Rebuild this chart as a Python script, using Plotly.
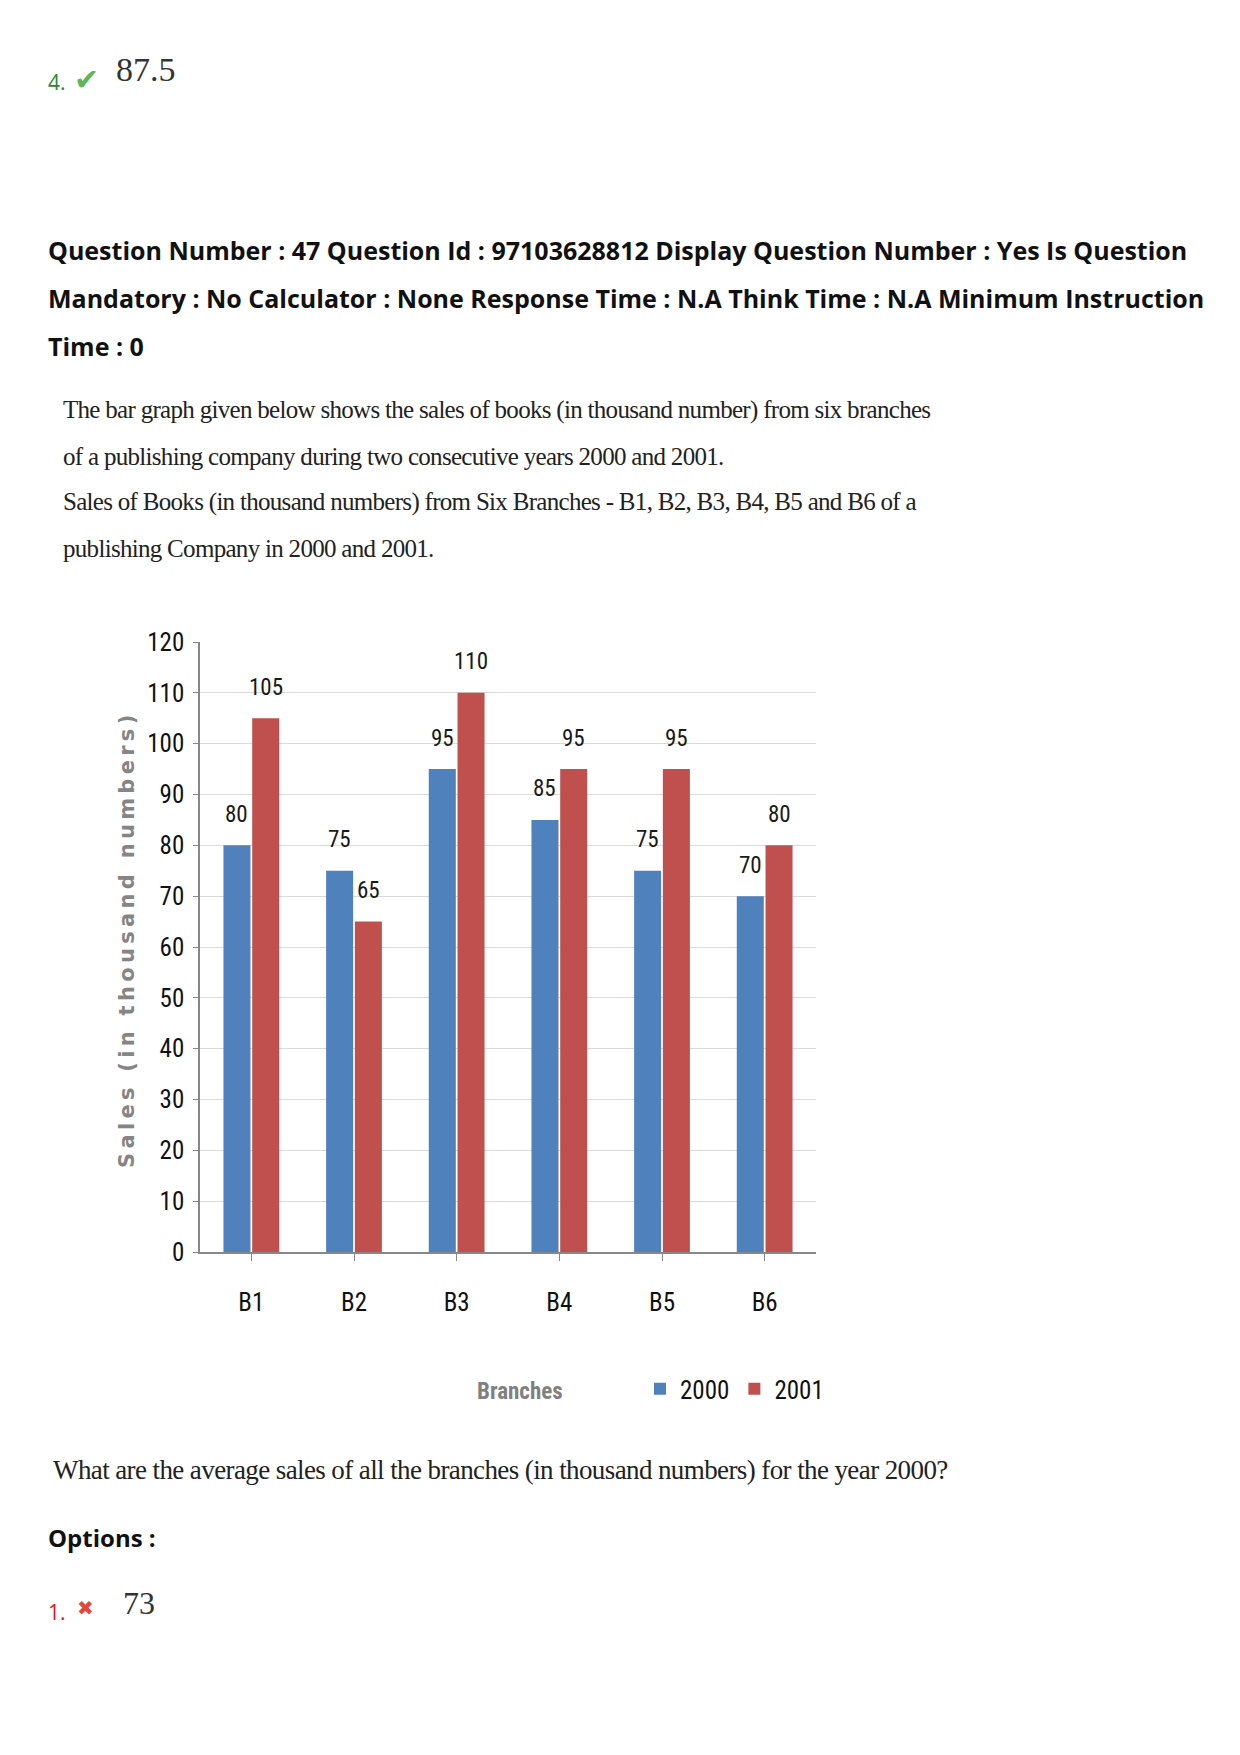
import plotly.graph_objects as go

# ---------------- data ----------------
branches = ["B1", "B2", "B3", "B4", "B5", "B6"]
sales_2000 = [80, 75, 95, 85, 75, 70]
sales_2001 = [105, 65, 110, 95, 95, 80]
series_names = ["2000", "2001"]
y_ticks = list(range(0, 121, 10))

header_lines = [
    "Question Number : 47 Question Id : 97103628812 Display Question Number : Yes Is Question",
    "Mandatory : No Calculator : None Response Time : N.A Think Time : N.A Minimum Instruction",
    "Time : 0",
]
intro_lines = [
    "The bar graph given below shows the sales of books (in thousand number) from six branches",
    "of a publishing company during two consecutive years 2000 and 2001.",
    "Sales of Books (in thousand numbers) from Six Branches - B1, B2, B3, B4, B5 and B6 of a",
    "publishing Company in 2000 and 2001.",
]
question_text = "What are the average sales of all the branches (in thousand numbers) for the year 2000?"
prev_option = ("4.", "87.5")
next_option = ("1.", "73")

# ---------------- layout geometry (pixels) ----------------
W, H = 1240, 1755
PL, PR, PT, PB = 200, 816, 642, 1252


def px(x):
    return (x - PL) / (PR - PL)


def py(y):
    return (PB - y) / (PB - PT)


BLUE = "#4F81BD"
RED = "#C0504D"
NARROW = "Roboto Condensed, DejaVu Sans Condensed, Liberation Sans Narrow, Liberation Sans, sans-serif"
SERIF = "Liberation Serif, Times New Roman, serif"
SANS = "Open Sans, Noto Sans, sans-serif"

fig = go.Figure()
fig.add_trace(go.Bar(name=series_names[0], x=branches, y=sales_2000,
                     marker=dict(color=BLUE, line=dict(width=0))))
fig.add_trace(go.Bar(name=series_names[1], x=branches, y=sales_2001,
                     marker=dict(color=RED, line=dict(width=0))))

BARGAP = 0.44
GROUPGAP = 0.06
cat_w = (PR - PL) / len(branches)
slot = cat_w * (1 - BARGAP) / 2

ann = []
# bar value labels
for i, vals in enumerate([sales_2000, sales_2001]):
    shift = (i - 0.5) * slot
    for b, v in zip(branches, vals):
        ann.append(dict(x=b, y=v, xref="x", yref="y", text=str(v), showarrow=False,
                        xshift=shift, yshift=31, yanchor="middle",
                        font=dict(family=NARROW, size=23, color="#1a1a1a")))

# y-axis title
ann.append(dict(x=px(127), y=py(939), xref="paper", yref="paper",
                text='<span style="letter-spacing:4.3px">Sales (in thousand numbers)</span>',
                textangle=-90, showarrow=False, xanchor="center", yanchor="middle",
                font=dict(family="DejaVu Sans", size=21, color="#858585", weight="bold")))
# x-axis title
ann.append(dict(x=px(520), y=py(1391), xref="paper", yref="paper", text="Branches",
                showarrow=False, xanchor="center", yanchor="middle",
                font=dict(family=NARROW, size=23, color="#808080", weight="bold")))


# page text
def page_text(text, x, y, family, size, color, weight="normal"):
    ann.append(dict(x=px(x), y=py(y), xref="paper", yref="paper", text=text,
                    showarrow=False, xanchor="left", yanchor="middle", align="left",
                    font=dict(family=family, size=size, color=color, weight=weight)))


page_text(prev_option[0], 46, 82, SANS, 21, "#2a8a2a")
page_text("✔", 72, 79, "DejaVu Sans", 30, "#5fb65a")
page_text(prev_option[1], 114, 70, SERIF, 34, "#333333")

for t, yy in zip(header_lines, [250, 298, 346]):
    page_text(t, 46, yy, SANS, 25, "#111111", "bold")

for t, yy in zip(intro_lines, [410, 456, 502, 548]):
    page_text('<span style="letter-spacing:-0.7px">' + t + '</span>', 61, yy, SERIF, 25, "#222222")

page_text('<span style="letter-spacing:-0.6px">' + question_text + '</span>', 51, 1470, SERIF, 27, "#222222")
page_text("Options :", 46, 1537, SANS, 24, "#111111", "bold")
page_text(next_option[0], 46, 1612, SANS, 21, "#e8141b")
page_text("✖", 75, 1608, "DejaVu Sans", 20, "#e2493c")
page_text(next_option[1], 121, 1603, SERIF, 32, "#333333")

fig.update_layout(
    width=W, height=H,
    margin=dict(l=PL, r=W - PR, t=PT, b=H - PB, pad=0),
    paper_bgcolor="white", plot_bgcolor="white",
    barmode="group", bargap=BARGAP, bargroupgap=GROUPGAP,
    showlegend=True,
    legend=dict(orientation="h", x=px(829), xanchor="right", y=py(1389), yanchor="middle",
                font=dict(family=NARROW, size=25, color="#111111"),
                itemwidth=30, bgcolor="rgba(0,0,0,0)", traceorder="normal"),
    annotations=ann,
    font=dict(family=NARROW, color="#111111"),
)
fig.update_xaxes(
    showline=True, linecolor="#878787", linewidth=1.5,
    ticks="outside", ticklen=7, tickcolor="#878787",
    tickfont=dict(family=NARROW, size=25, color="#111111"),
    ticklabelstandoff=20, showgrid=False, zeroline=False,
)
fig.update_yaxes(
    range=[0, 120], tickvals=y_ticks, showline=True, linecolor="#878787", linewidth=1.5,
    ticks="outside", ticklen=5, tickcolor="#878787",
    tickfont=dict(family=NARROW, size=25, color="#111111"),
    ticklabelstandoff=4,
    showgrid=True, gridcolor="#d9d9d9", gridwidth=1, zeroline=False,
)

fig.write_html("out.html", config={"displayModeBar": False},
               post_script="document.body.style.margin='0';")
